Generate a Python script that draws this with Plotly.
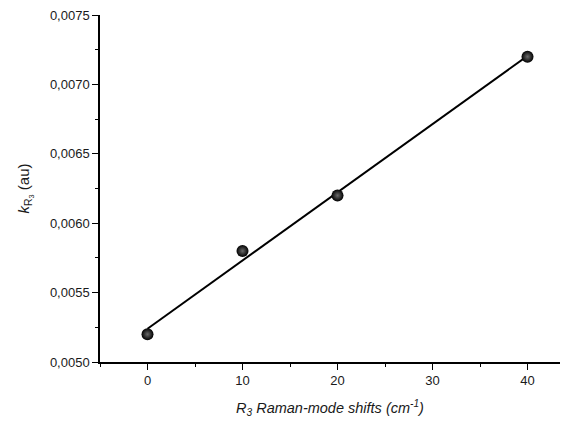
import numpy as np
import plotly.graph_objects as go

shift_cm = [0, 10, 20, 40]
k_R3 = [0.0052, 0.0058, 0.0062, 0.0072]

slope, intercept = np.polyfit(shift_cm, k_R3, 1)
fit_x = [min(shift_cm), max(shift_cm)]
fit_y = [slope * v + intercept for v in fit_x]

fig = go.Figure()
fig.add_trace(go.Scatter(x=fit_x, y=fit_y, mode="lines",
                         line=dict(color="black", width=2), showlegend=False,
                         hoverinfo="skip"))
fig.add_trace(go.Scatter(x=shift_cm, y=k_R3, mode="markers",
                         marker=dict(size=12, color="#000000",
                                     gradient=dict(type="radial", color="#6a6a6a"),
                                     line=dict(width=0)),
                         showlegend=False))

font = "Liberation Sans, Arial, sans-serif"
fig.update_layout(
    width=552, height=409,
    margin=dict(l=92, r=0, t=7, b=55),
    paper_bgcolor="white", plot_bgcolor="white",
    separators=", ",
    font=dict(family=font, size=13, color="#1a1a1a"),
    xaxis=dict(range=[-5, 43.42], tick0=0, dtick=10, ticks="outside", ticklen=6,
               tickwidth=1.3, tickcolor="black", ticklabeloverflow="allow",
               showline=True, linecolor="black", linewidth=1.5, showgrid=False,
               zeroline=False, automargin=False,
               minor=dict(dtick=5, tick0=0, ticks="outside", ticklen=3.5, tickwidth=1.2, tickcolor="black"),
               tickfont=dict(size=13)),
    yaxis=dict(range=[0.0050, 0.0075], tick0=0.005, dtick=0.0005, ticks="outside", ticklen=6,
               tickwidth=1.3, tickcolor="black", tickformat=".4f", ticklabeloverflow="allow",
               showline=True, linecolor="black", linewidth=1.5, showgrid=False,
               zeroline=False, automargin=False,
               minor=dict(dtick=0.00025, ticks="outside", ticklen=3.5, tickwidth=1.2, tickcolor="black"),
               tickfont=dict(size=13)),
    annotations=[
        dict(text="<i>R<sub>3</sub> Raman-mode shifts (cm<sup>-1</sup>)</i>",
             xref="paper", yref="paper", x=0.5, y=0, xanchor="center", yanchor="top",
             yshift=-34, showarrow=False, font=dict(size=14.5)),
        dict(text="<i>k</i><sub>R<sub>3</sub></sub> (au)",
             xref="paper", yref="paper", x=0, y=0.5, xanchor="center", yanchor="middle",
             xshift=-75, textangle=-90, showarrow=False, font=dict(size=15)),
    ],
)

fig.write_html("out.html")
